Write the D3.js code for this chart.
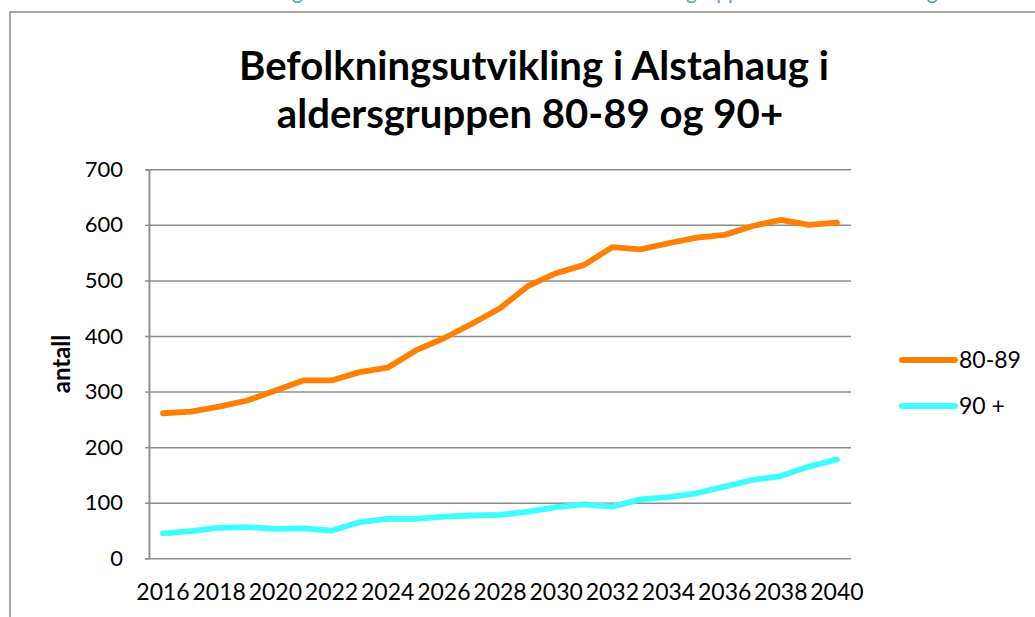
<!DOCTYPE html>
<html>
<head>
<meta charset="utf-8">
<script src="https://cdn.jsdelivr.net/npm/d3@7"></script>
<style>
  body { margin: 0; background: #fff; }
  text { font-family: Lato, "Open Sans", sans-serif; fill: #000; }
</style>
</head>
<body>
<script>
// Befolkningsutvikling i Alstahaug, 80-89 og 90+
const years = [2016, 2017, 2018, 2019, 2020, 2021, 2022, 2023, 2024, 2025, 2026, 2027, 2028,
               2029, 2030, 2031, 2032, 2033, 2034, 2035, 2036, 2037, 2038, 2039, 2040]
const age8089 = [261, 264, 273, 284, 302, 320, 320, 335, 343, 374, 396, 422, 450,
                 490, 513, 528, 560, 556, 567, 577, 582, 598, 609, 600, 604]
const age90 = [45, 49, 55, 56, 53, 54, 50, 65, 71, 71, 75, 77, 78,
               84, 92, 97, 93, 106, 110, 117, 129, 141, 148, 165, 178]
const xLabels = [2016, 2018, 2020, 2022, 2024, 2026, 2028, 2030, 2032, 2034, 2036, 2038, 2040]
const yTicks = [0, 100, 200, 300, 400, 500, 600, 700]
const seriesNames = ["80-89", "90 +"]
const titleLines = ["Befolkningsutvikling i Alstahaug i", "aldersgruppen 80-89 og 90+"]

const W = 1035, H = 617
const colors = ["#ff8000", "#3ffcff"]
const grid = "#8c8c8c"

const svg = d3.select("body")
    .append("svg")
    .attr("width", W)
    .attr("height", H)

// bit of the caption above the chart, cut off by the page edge
const caption = svg.append("g")
caption.append("text").attr("x", 303).attr("y", -1.5).attr("text-anchor", "end")
    .style("font-size", "21px").style("fill", "#5b9bd5").text("Alstahaug")
caption.append("text").attr("x", 686).attr("y", -1.5)
    .style("font-size", "21px").style("fill", "#5b9bd5").text("gruppen 80-89")
caption.append("text").attr("x", 915).attr("y", -1.5)
    .style("font-size", "21px").style("fill", "#5b9bd5").text("og")

// chart frame
svg.append("rect")
    .attr("x", 10)
    .attr("y", 12)
    .attr("width", 1100)
    .attr("height", 700)
    .attr("fill", "none")
    .attr("stroke", grid)
    .attr("stroke-width", 1.5)

// title
const title = svg.append("g")
const t1 = title.append("text")
    .attr("x", 534).attr("y", 80)
    .attr("text-anchor", "middle")
    .style("font-weight", "bold")
    .style("font-size", "40px")
    .text(titleLines[0])
const fs = 40 * 590 / t1.node().getComputedTextLength()
t1.style("font-size", fs + "px")
title.append("text")
    .attr("x", 530).attr("y", 128)
    .attr("text-anchor", "middle")
    .style("font-weight", "bold")
    .style("font-size", fs + "px")
    .text(titleLines[1])

const x = d3.scaleBand()
    .domain(years)
    .range([149, 851])

const y = d3.scaleLinear()
    .domain([0, 700])
    .range([558.3, 169.3])

const cx = d => x(d) + x.bandwidth() / 2

// gridlines + y labels
const yAxis = svg.append("g")
    .attr("transform", "translate(149,0)")
    .call(d3.axisLeft(y).tickValues(yTicks).tickSizeInner(-702).tickSizeOuter(0).tickPadding(26))
yAxis.select(".domain").attr("stroke", grid).attr("stroke-width", 1.5)
yAxis.selectAll(".tick line").attr("stroke", grid).attr("stroke-width", 1.5)
yAxis.selectAll(".tick text")
    .attr("font-family", null)
    .style("font-size", "22px")

svg.append("g")
    .attr("transform", "translate(149,0)")
    .call(d3.axisLeft(y).tickValues(yTicks).tickSize(4).tickFormat(""))
    .call(g => g.selectAll("line").attr("stroke", grid).attr("stroke-width", 1.5))
    .call(g => g.select(".domain").attr("stroke", grid).attr("stroke-width", 1.5))

// x labels
const xAxis = svg.append("g")
    .attr("transform", "translate(0,558.3)")
    .call(d3.axisBottom(x).tickValues(xLabels).tickSize(0).tickPadding(25))
xAxis.select(".domain").remove()
xAxis.selectAll(".tick text")
    .attr("font-family", null)
    .style("font-size", "23px")

// y title
svg.append("text")
    .attr("transform", "translate(70,364) rotate(-90)")
    .attr("text-anchor", "middle")
    .style("font-weight", "bold")
    .style("font-size", "24px")
    .text("antall")

// lines
const line = d3.line()
    .x((d, i) => cx(years[i]))
    .y(d => y(d))

svg.selectAll(".series")
    .data([age8089, age90])
    .enter()
    .append("path")
    .attr("class", "series")
    .attr("d", d => line(d))
    .attr("fill", "none")
    .attr("stroke", (d, i) => colors[i])
    .attr("stroke-width", 5.8)
    .attr("stroke-linecap", "round")
    .attr("stroke-linejoin", "round")

// legend
const legend = svg.selectAll(".legend")
    .data(seriesNames)
    .enter()
    .append("g")
    .attr("class", "legend")
    .attr("transform", (d, i) => `translate(902,${360 + i * 46})`)

legend.append("line")
    .attr("x1", 0).attr("x2", 53)
    .attr("stroke", (d, i) => colors[i])
    .attr("stroke-width", 5.8)
    .attr("stroke-linecap", "round")

legend.append("text")
    .attr("x", 57)
    .attr("dy", "0.36em")
    .style("font-size", "23px")
    .text(d => d)
</script>
</body>
</html>
